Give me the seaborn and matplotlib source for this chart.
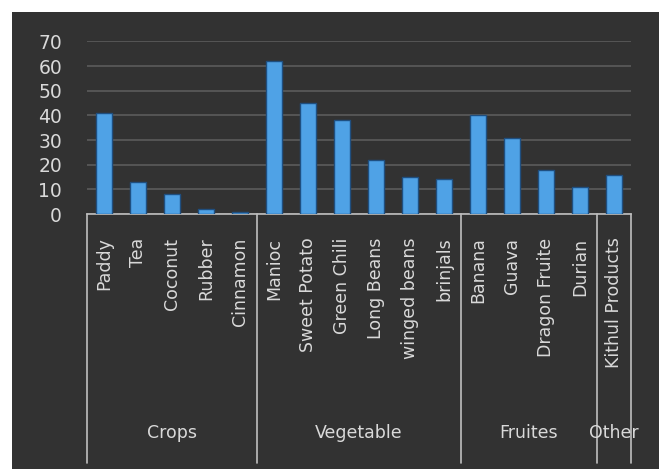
import matplotlib
matplotlib.use("Agg")
import matplotlib.pyplot as plt
import matplotlib.transforms as mtransforms
import seaborn as sns
import pandas as pd

categories = ["Paddy", "Tea", "Coconut", "Rubber", "Cinnamon",
              "Manioc", "Sweet Potato", "Green Chili", "Long Beans", "winged beans", "brinjals",
              "Banana", "Guava", "Dragon Fruite", "Durian",
              "Kithul Products"]
values = [41, 13, 8, 2, 1,
          62, 45, 38, 22, 15, 14,
          40, 31, 18, 11,
          16]
groups = ["Crops", "Vegetable", "Fruites", "Other"]
group_sizes = [5, 6, 4, 1]

df = pd.DataFrame({"category": categories, "value": values})

sns.set_theme(style="dark")
plt.rcParams["font.family"] = ["DejaVu Sans"]

W, H = 659, 469
fig = plt.figure(figsize=(W / 100, H / 100), dpi=100, facecolor="white")
bg = fig.add_axes([12 / W, 0, 1 - 12 / W, 1 - 12 / H], zorder=-5)
bg.set_facecolor("#323232")
bg.set_xticks([])
bg.set_yticks([])
for s in bg.spines.values():
    s.set_visible(False)

ax_left, ax_right = 87 / W, 631 / W
ax_bottom, ax_top = 1 - 214 / H, 1 - 41.5 / H
ax = fig.add_axes([ax_left, ax_bottom, ax_right - ax_left, ax_top - ax_bottom], zorder=1)
ax.set_facecolor("none")

sns.barplot(data=df, x="category", y="value", color="#4fa2e6", width=0.47,
            edgecolor="#1f4f80", linewidth=1.0, saturation=1, ax=ax, zorder=3)

ax.set_ylim(0, 70)
ax.set_xlim(-0.5, len(categories) - 0.5)
ax.set_yticks(range(0, 71, 10))
ax.set_axisbelow(True)
ax.yaxis.grid(True, color="#5c5c5c", linewidth=1.2)
ax.xaxis.grid(False)
for s in ["top", "right", "left"]:
    ax.spines[s].set_visible(False)
ax.spines["bottom"].set_color("#bfbfbf")
ax.spines["bottom"].set_linewidth(1.2)
ax.set_xlabel("")
ax.set_ylabel("")
ax.tick_params(axis="y", length=0, pad=18, labelsize=13.5, labelcolor="#d9d9d9")
ax.tick_params(axis="x", length=0, pad=17, labelsize=12.5, labelcolor="#d9d9d9")
plt.setp(ax.get_xticklabels(), rotation=90, va="top", ha="center")

trans = mtransforms.blended_transform_factory(ax.transData, ax.transAxes)
bottom_frac = -(463 - 214) / (214 - 41.5)
label_frac = -(433 - 214) / (214 - 41.5)
bounds = [-0.5]
for n in group_sizes:
    bounds.append(bounds[-1] + n)
for b in bounds:
    ax.plot([b, b], [0, bottom_frac], transform=trans, color="#bfbfbf", linewidth=1.2, clip_on=False)
for g, a, b in zip(groups, bounds[:-1], bounds[1:]):
    ax.text((a + b) / 2, label_frac, g, transform=trans, ha="center", va="center",
            fontsize=12.5, color="#d9d9d9")

fig.savefig("out.png", dpi=100, facecolor="white")
